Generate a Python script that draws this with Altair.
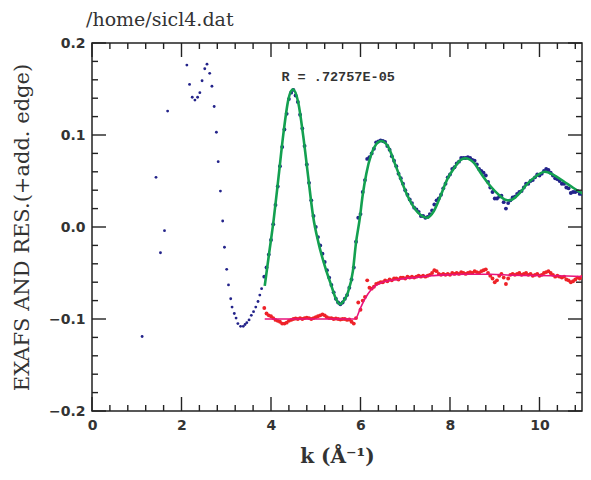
import altair as alt
import pandas as pd

# ---------------- data ----------------
# sparse experimental points (low k)
k_raw = [1.12, 1.43, 1.53, 1.62, 1.69, 2.12, 2.18, 2.24, 2.30, 2.36, 2.41, 2.46, 2.52, 2.57, 2.63,
         2.68, 2.73, 2.78, 2.82, 2.87, 2.92, 2.96, 3.01, 3.05, 3.10, 3.13, 3.18, 3.22, 3.26, 3.32,
         3.38, 3.42, 3.46, 3.51, 3.56, 3.61, 3.66, 3.71, 3.75, 3.79]
y_raw = [-0.119, 0.054, -0.028, -0.004, 0.126, 0.176, 0.155, 0.141, 0.138, 0.141, 0.146, 0.159, 0.172, 0.177, 0.167,
         0.153, 0.131, 0.103, 0.071, 0.039, 0.0065, -0.022, -0.046, -0.063, -0.078, -0.087, -0.094, -0.099, -0.105, -0.108,
         -0.108, -0.106, -0.104, -0.101, -0.096, -0.092, -0.087, -0.081, -0.074, -0.067]

# dense experimental points and residuals (+ edge)
k_dense = [3.85, 3.90, 3.95, 4.00, 4.05, 4.10, 4.15, 4.20, 4.25, 4.30, 4.35, 4.40, 4.45, 4.50, 4.55, 4.60,
           4.65, 4.70, 4.75, 4.80, 4.85, 4.90, 4.95, 5.00, 5.05, 5.10, 5.15, 5.20, 5.25, 5.30, 5.35, 5.40,
           5.45, 5.50, 5.55, 5.60, 5.65, 5.70, 5.75, 5.80, 5.85, 5.90, 5.95, 6.00, 6.05, 6.10, 6.15, 6.20,
           6.25, 6.30, 6.35, 6.40, 6.45, 6.50, 6.55, 6.60, 6.65, 6.70, 6.75, 6.80, 6.85, 6.90, 6.95, 7.00,
           7.05, 7.10, 7.15, 7.20, 7.25, 7.30, 7.35, 7.40, 7.45, 7.50, 7.55, 7.60, 7.65, 7.70, 7.75, 7.80,
           7.85, 7.90, 7.95, 8.00, 8.05, 8.10, 8.15, 8.20, 8.25, 8.30, 8.35, 8.40, 8.45, 8.50, 8.55, 8.60,
           8.65, 8.70, 8.75, 8.80, 8.85, 8.90, 8.95, 9.00, 9.05, 9.10, 9.15, 9.20, 9.25, 9.30, 9.35, 9.40,
           9.45, 9.50, 9.55, 9.60, 9.65, 9.70, 9.75, 9.80, 9.85, 9.90, 9.95, 10.00, 10.05, 10.10, 10.15, 10.20,
           10.25, 10.30, 10.35, 10.40, 10.45, 10.50, 10.55, 10.60, 10.65, 10.70, 10.75, 10.80, 10.85, 10.90, 10.95, 11.00]
y_exp = [-0.054, -0.044, -0.030, -0.014, 0.003, 0.024, 0.044, 0.066, 0.087, 0.106, 0.123, 0.139, 0.146, 0.149, 0.143, 0.136,
         0.122, 0.107, 0.088, 0.068, 0.048, 0.029, 0.012, 0.000, -0.011, -0.020, -0.029, -0.038, -0.047, -0.055, -0.063, -0.071,
         -0.078, -0.082, -0.084, -0.082, -0.078, -0.074, -0.066, -0.057, -0.044, -0.016, 0.010, 0.014, 0.038, 0.051, 0.074, 0.076,
         0.080, 0.085, 0.092, 0.093, 0.0942, 0.0935, 0.0925, 0.088, 0.084, 0.077, 0.072, 0.066, 0.058, 0.053, 0.047, 0.040,
         0.035, 0.030, 0.026, 0.021, 0.019, 0.0165, 0.012, 0.012, 0.010, 0.011, 0.014, 0.018, 0.0245, 0.029, 0.031, 0.035,
         0.042, 0.047, 0.054, 0.057, 0.063, 0.065, 0.069, 0.071, 0.075, 0.075, 0.075, 0.076, 0.075, 0.073, 0.072, 0.068,
         0.063, 0.061, 0.059, 0.056, 0.049, 0.043, 0.038, 0.031, 0.031, 0.033, 0.034, 0.027, 0.020, 0.026, 0.029, 0.032,
         0.033, 0.036, 0.038, 0.039, 0.043, 0.047, 0.047, 0.050, 0.051, 0.054, 0.057, 0.056, 0.058, 0.061, 0.063, 0.062,
         0.059, 0.056, 0.053, 0.052, 0.050, 0.047, 0.047, 0.043, 0.042, 0.037, 0.038, 0.038, 0.039, 0.036, 0.036, 0.034]
y_res = [-0.088, -0.094, -0.096, -0.097, -0.099, -0.101, -0.102, -0.103, -0.105, -0.105, -0.104, -0.102, -0.101, -0.100, -0.0995, -0.100,
         -0.099, -0.100, -0.099, -0.0985, -0.099, -0.100, -0.099, -0.098, -0.097, -0.096, -0.095, -0.096, -0.098, -0.099, -0.099, -0.100,
         -0.0995, -0.100, -0.1005, -0.100, -0.100, -0.101, -0.1005, -0.103, -0.105, -0.099, -0.082, -0.090, -0.080, -0.076, -0.058, -0.066,
         -0.067, -0.065, -0.062, -0.061, -0.060, -0.060, -0.058, -0.059, -0.057, -0.058, -0.056, -0.056, -0.057, -0.055, -0.055, -0.056,
         -0.054, -0.055, -0.054, -0.055, -0.054, -0.053, -0.054, -0.053, -0.054, -0.053, -0.052, -0.050, -0.047, -0.048, -0.051, -0.052,
         -0.051, -0.052, -0.051, -0.052, -0.050, -0.051, -0.050, -0.051, -0.049, -0.050, -0.051, -0.050, -0.049, -0.050, -0.048, -0.049,
         -0.050, -0.048, -0.047, -0.046, -0.050, -0.053, -0.056, -0.060, -0.058, -0.053, -0.051, -0.055, -0.062, -0.056, -0.052, -0.051,
         -0.052, -0.051, -0.050, -0.052, -0.051, -0.050, -0.052, -0.051, -0.053, -0.052, -0.051, -0.053, -0.052, -0.050, -0.049, -0.048,
         -0.050, -0.052, -0.054, -0.053, -0.054, -0.055, -0.054, -0.057, -0.058, -0.060, -0.059, -0.057, -0.055, -0.056, -0.054, -0.055]

# fitted curve
k_fit = [3.86, 3.95, 4.06, 4.17, 4.28, 4.39, 4.49, 4.61, 4.72, 4.83, 4.94, 5.06, 5.20, 5.35, 5.45, 5.54,
         5.63, 5.72, 5.83, 5.90, 5.98, 6.05, 6.13, 6.24, 6.35, 6.46, 6.61, 6.76, 6.90, 7.05, 7.20, 7.35,
         7.48, 7.64, 7.79, 7.94, 8.09, 8.23, 8.34, 8.53, 8.71, 8.90, 9.08, 9.22, 9.34, 9.53, 9.71, 9.93,
         10.12, 10.30, 10.53, 10.75, 11.04]
y_fit = [-0.064, -0.0315, 0.008, 0.055, 0.1025, 0.139, 0.1496, 0.135, 0.099, 0.055, 0.012, -0.017, -0.042, -0.064, -0.078, -0.084,
         -0.080, -0.071, -0.048, -0.017, 0.008, 0.035, 0.058, 0.079, 0.090, 0.0935, 0.088, 0.070, 0.052, 0.034, 0.021, 0.0127,
         0.010, 0.0174, 0.034, 0.052, 0.064, 0.0725, 0.0747, 0.070, 0.057, 0.0446, 0.0355, 0.030, 0.029, 0.0355, 0.046, 0.0554,
         0.060, 0.057, 0.050, 0.0427, 0.034]

# edge (offset) curve for residuals
k_edge = [3.86, 5.88, 6.00, 6.09, 6.24, 6.46, 6.83, 7.20, 7.57, 7.94, 8.34, 8.90, 9.42, 10.38, 11.04]
y_edge = [-0.100, -0.100, -0.088, -0.079, -0.068, -0.0605, -0.057, -0.055, -0.053, -0.052, -0.0514, -0.0514, -0.0525, -0.053, -0.054]

x_major = [0, 2, 4, 6, 8, 10]
x_minor = [0.4, 0.8, 1.2, 1.6, 2.4, 2.8, 3.2, 3.6, 4.4, 4.8, 5.2, 5.6, 6.4, 6.8, 7.2, 7.6,
           8.4, 8.8, 9.2, 9.6, 10.4, 10.8]
y_major = [-0.2, -0.1, 0.0, 0.1, 0.2]
y_minor = [-0.18, -0.16, -0.14, -0.12, -0.08, -0.06, -0.04, -0.02,
           0.02, 0.04, 0.06, 0.08, 0.12, 0.14, 0.16, 0.18]

annotation = "R = .72757E-05"
ann_k, ann_y = 5.5, 0.163

# ---------------- chart ----------------
W, H = 490, 368
INK = "#222222"
TXT = "#333333"

xs = alt.Scale(domain=[0, 10.95], nice=False, zero=False)
ys = alt.Scale(domain=[-0.2, 0.2], nice=False, zero=False)

xaxis = alt.Axis(values=x_major, ticks=False, domain=False, grid=False,
                 labelFont="DejaVu Sans", labelFontWeight="bold", labelFontSize=14,
                 labelColor=TXT, labelPadding=7, labelFlush=False,
                 title="k (Å⁻¹)", titleFont="DejaVu Serif", titleFontSize=20,
                 titleFontWeight="bold", titleColor=TXT, titleY=35)
yaxis = alt.Axis(values=y_major, format=".1f", ticks=False, domain=False, grid=False,
                 labelFont="DejaVu Sans", labelFontWeight="bold", labelFontSize=14,
                 labelColor=TXT, labelPadding=7, labelFlush=False,
                 title="EXAFS AND RES.(+add. edge)", titleFont="DejaVu Serif", titleFontSize=21,
                 titleFontWeight="normal", titleColor=TXT, titleX=-60, titleY=H / 2)

def X(field):
    return alt.X(field, type="quantitative", scale=xs, axis=xaxis)

def Y(field):
    return alt.Y(field, type="quantitative", scale=ys, axis=yaxis)

raw_df = pd.DataFrame({"k": k_raw, "y": y_raw})
dense_df = pd.DataFrame({"k": k_dense, "y": y_exp, "r": y_res})
fit_df = pd.DataFrame({"k": k_fit, "y": y_fit})
edge_df = pd.DataFrame({"k": k_edge, "y": y_edge})

raw_pts = alt.Chart(raw_df).mark_circle(size=8, color="#23238a", opacity=1, clip=True).encode(x=X("k"), y=Y("y"))
exp_pts = alt.Chart(dense_df).mark_circle(size=15, color="#23238a", opacity=1, clip=True).encode(x=X("k"), y=Y("y"))
res_pts = alt.Chart(dense_df).mark_circle(size=15, color="#ee2228", opacity=1, clip=True).encode(x=X("k"), y=Y("r"))
fit_line = alt.Chart(fit_df).mark_line(color="#13a050", strokeWidth=2.6, interpolate="monotone", clip=True).encode(
    x=X("k"), y=Y("y"))
edge_line = alt.Chart(edge_df).mark_line(color="#e8137c", strokeWidth=1.6, interpolate="monotone", clip=True).encode(
    x=X("k"), y=Y("y"))

ann = alt.Chart(pd.DataFrame({"k": [ann_k], "y": [ann_y], "t": [annotation]})).mark_text(
    font="Liberation Mono", fontWeight="bold", fontSize=13.5, color=TXT, align="center", baseline="middle"
).encode(x=X("k"), y=Y("y"), text="t:N")

def vticks(vals, y0, y1):
    return alt.Chart(pd.DataFrame({"v": vals})).mark_rule(color=INK, strokeWidth=1.4).encode(
        x=X("v"), y=alt.value(y0), y2=alt.value(y1))

def hticks(vals, x0, x1):
    return alt.Chart(pd.DataFrame({"v": vals})).mark_rule(color=INK, strokeWidth=1.4).encode(
        y=Y("v"), x=alt.value(x0), x2=alt.value(x1))

ticks = [
    vticks(x_major, H, H - 14), vticks(x_minor, H, H - 6),
    vticks(x_major, 0, 14), vticks(x_minor, 0, 6),
    hticks(y_major, 0, 14), hticks(y_minor, 0, 6),
    hticks(y_major, W, W - 14), hticks(y_minor, W, W - 6),
]

chart = alt.layer(
    raw_pts, exp_pts, fit_line, res_pts, edge_line, ann, *ticks
).properties(
    width=W, height=H,
    title=alt.TitleParams("/home/sicl4.dat", anchor="start", frame="group", font="DejaVu Serif",
                          fontSize=19, fontWeight="normal", color=TXT, offset=6, dx=-6),
    autosize=alt.AutoSizeParams(type="none"),
    padding={"left": 84, "top": 35, "right": 1, "bottom": 60},
).configure_view(
    stroke=INK, strokeWidth=1.5
)

chart.save("out.html", embed_options={"renderer": "svg", "actions": False})
